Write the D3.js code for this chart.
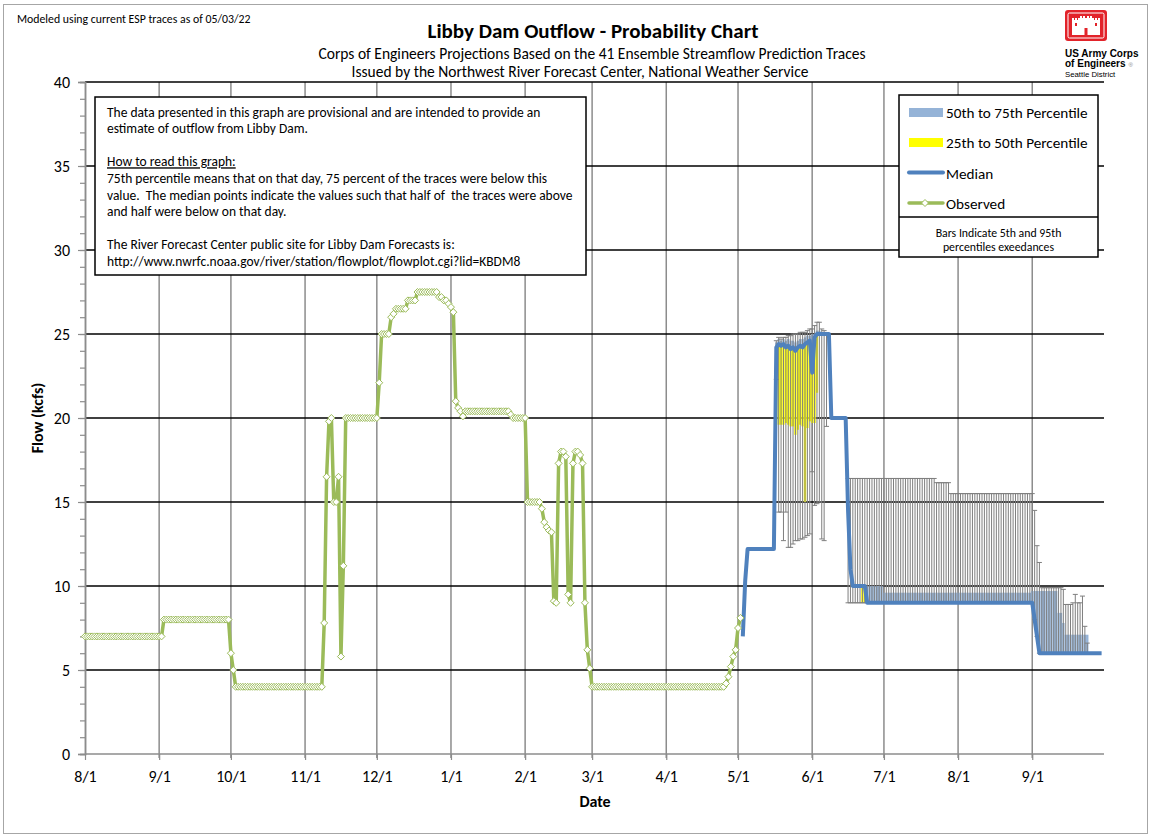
<!DOCTYPE html>
<html>
<head>
<meta charset="utf-8">
<script src="https://cdn.jsdelivr.net/npm/d3@7"></script>
<style>
  body { margin: 0; background: #fff; }
  svg text { font-family: Carlito, Calibri, Lato, sans-serif; fill: #000; }
</style>
</head>
<body>
<svg id="chart" width="1151" height="837"></svg>
<script>
// observed outflow (kcfs), one value per day starting 8/1/2021
const obsStart = new Date(2021, 7, 1);
const observed = [
  // Aug
  7,7,7,7,7,7,7,7,7,7, 7,7,7,7,7,7,7,7,7,7, 7,7,7,7,7,7,7,7,7,7, 7,
  // Sep
  7,7,8,8,8,8,8,8,8,8, 8,8,8,8,8,8,8,8,8,8, 8,8,8,8,8,8,8,8,8,8,
  // Oct
  6,5,4,4,4,4,4,4,4,4, 4,4,4,4,4,4,4,4,4,4, 4,4,4,4,4,4,4,4,4,4, 4,
  // Nov
  4,4,4,4,4,4,4,4,7.8,16.5, 19.8,20,15,15,16.5,5.8,11.2,20,20,20, 20,20,20,20,20,20,20,20,20,20,
  // Dec
  20,22.1,25,25,25,25,26,26.2,26.5,26.5, 26.5,26.5,26.5,27,27,27,27,27.5,27.5,27.5,
  27.5,27.5,27.5,27.5,27.5,27.5,27.2,27.2,27,27, 26.8,
  // Jan
  26.6,26.3,21,20.6,20.4,20.1,20.4,20.4,20.4,20.4, 20.4,20.4,20.4,20.4,20.4,20.4,20.4,20.4,20.4,20.4,
  20.4,20.4,20.4,20.4,20.4,20.2,20,20,20,20, 20,
  // Feb
  20,15,15,15,15,15,15,14.6,13.8,13.5, 13.3,13.2,9.1,9,17.3,18,18,17.7,9.5,9, 17.3,18,18,17.8,17.3,9,6.2,5.1,
  // Mar
  4,4,4,4,4,4,4,4,4,4, 4,4,4,4,4,4,4,4,4,4, 4,4,4,4,4,4,4,4,4,4, 4,
  // Apr
  4,4,4,4,4,4,4,4,4,4, 4,4,4,4,4,4,4,4,4,4, 4,4,4,4,4,4.2,4.6,5.2,5.8,6.2,
  // May
  7.5,8.1
];

// projections, one value per day starting 5/3/2022 (null = not shown)
const projStart = new Date(2022, 4, 3);
const median = [
  // May 3-31
  7,10.3,12.2,12.2,12.2,12.2,12.2,12.2,12.2,12.2, 12.2,12.2,12.2,12.2,24.2,24.4,24.3,24.4,24.2,24.3,
  24.1,24.2,24,24.2,24.3,24.2,24.4,24.5,24.6,
  // Jun
  22.7,24.8,25,25,25,25,25,25,20,20, 20,20,20,20,20,14.5,11,10,10,10, 10,10,10,9,9,9,9,9,9,9,
  // Jul
  9,9,9,9,9,9,9,9,9,9, 9,9,9,9,9,9,9,9,9,9, 9,9,9,9,9,9,9,9,9,9, 9,
  // Aug
  9,9,9,9,9,9,9,9,9,9, 9,9,9,9,9,9,9,9,9,9, 9,9,9,9,9,9,9,9,9,9, 9,
  // Sep
  9,8,7,6,6,6,6,6,6,6, 6,6,6,6,6,6,6,6,6,6, 6,6,6,6,6,6,6,6,6,6
];
const p25 = [
  // May
  null,null,null,null,null,null,null,null,null,null, null,null,null,null,null,
  19.6,19.6,19.6,19.7,19.6,19.5,19.5,19.0,19.3,19.6,19.5,15.0,19.4,19.8,
  // Jun
  19.7,19.7,21.5,null,null,null,null,null,null,null, null,null,null,null,null,null,null,null,null,null,
  null,9,9
];
const p75 = [
  // May
  null,null,null,null,null,null,null,null,null,null, null,null,null,null,
  24.5,24.7,24.6,24.7,24.6,24.7,24.6,24.6,24.5,24.6,24.7,24.7,24.8,24.9,24.9,
  // Jun
  25.0,25.0,25.2,25.2,25.1,null,null,null,null,null, null,null,null,null,null,null,null,10,10,10,
  10,10,10,10,10,10,10,10,10,10,
  // Jul
  9.6,9.6,9.6,9.6,9.6,9.6,9.6,9.6,9.6,9.6, 9.6,9.6,9.6,9.6,9.6,9.6,9.6,9.6,9.6,9.6, 9.6,9.6,9.6,9.6,9.6,9.6,9.6,9.6,9.6,9.6, 9.6,
  // Aug
  9.6,9.6,9.6,9.6,9.6,9.6,9.6,9.6,9.6,9.6, 9.6,9.6,9.6,9.6,9.6,9.6,9.6,9.6,9.6,9.6, 9.6,9.6,9.6,9.6,9.6,9.6,9.6,9.6,9.6,9.6, 9.6,
  // Sep
  9.7,9.7,9.7,9.7,9.7,9.7,9.7,9.7,9.7,9.7, 9.7,8.4,8.4,7.8,7.1,7.1,7.1,7.1,7.1,7.1, 7.1,7.1,7.1,7.1
];
const p5 = [
  // May
  null,null,null,null,null,null,null,null,null,null, null,null,null,null,
  22.3,14.4,14.4,12.7,14.4,12.3,12.3,12.5,12.7,12.7,12.8,12.8,12.9,13.0,13.1,
  // Jun
  16.8,14.8,14.9,15.0,12.8,12.7,19.5,null,null,null, null,null,null,null,null,9,9,9,9,9,
  9,9,9,9,9,9,9,9,9,9,
  // Jul
  9,9,9,9,9,9,9,9,9,9, 9,9,9,9,9,9,9,9,9,9, 9,9,9,9,9,9,9,9,9,9, 9,
  // Aug
  9,9,9,9,9,9,9,9,9,9, 9,9,9,9,9,9,9,9,9,9, 9,9,9,9,9,9,9,9,9,9, 9,
  // Sep
  9,8,7,6,6,6,6,6,6,6, 6,6,6,6,6,6,6,6,6,6, 6,6,6,6
];
const p95 = [
  // May
  null,null,null,null,null,null,null,null,null,null, null,null,null,null,
  24.6,24.8,24.7,24.8,24.8,24.9,24.9,25.0,25.0,25.0,25.1,25.1,25.1,25.2,25.3,
  // Jun
  25.3,25.5,25.7,25.7,25.3,25.2,25.0,null,null,null, null,null,null,null,null,16.4,16.4,16.4,16.4,16.4,
  16.4,16.4,16.4,16.4,16.4,16.4,16.4,16.4,16.4,16.4,
  // Jul
  16.4,16.4,16.4,16.4,16.4,16.4,16.4,16.4,16.4,16.4, 16.4,16.4,16.4,16.4,16.4,16.4,16.4,16.4,16.4,16.4,
  16.4,16.4,16.15,16.15,16.15,16.15,16.15,16.15,15.5,15.5, 15.5,
  // Aug
  15.5,15.5,15.5,15.5,15.5,15.5,15.5,15.5,15.5,15.5, 15.5,15.5,15.5,15.5,15.5,15.5,15.5,15.5,15.5,15.5,
  15.5,15.5,15.5,15.5,15.5,15.5,15.5,15.5,15.5,15.5, 15.5,
  // Sep
  15.5,14.5,12.4,11.4,9.9,9.9,9.9,9.9,9.9,9.9, 9.9,9.9,9.9,9.8,8.9,8.9,8.9,9.0,9.5,9.0, 9.0,9.4,7.6,6.6
];

const yTicks = [0, 5, 10, 15, 20, 25, 30, 35, 40];

const noteLines = [
  'The data presented in this graph are provisional and are intended to provide an',
  'estimate of outflow from Libby Dam.',
  '',
  'How to read this graph:',
  '75th percentile means that on that day, 75 percent of the traces were below this',
  'value.  The median points indicate the values such that half of  the traces were above',
  'and half were below on that day.',
  '',
  'The River Forecast Center public site for Libby Dam Forecasts is:',
  'http://www.nwrfc.noaa.gov/river/station/flowplot/flowplot.cgi?lid=KBDM8'
];

const GREEN = '#9bbb59', BLUE = '#4f81bd', BAND = '#95b3d7', YELLOW = '#ffff00', BAR = '#7f7f7f';

const svg = d3.select('#chart');

// frame
svg.append('rect').attr('x', 3.5).attr('y', 4.5).attr('width', 1144).attr('height', 829)
  .attr('fill', '#fff').attr('stroke', '#a6a6a6');

const x = d3.scaleTime().domain([new Date(2021, 7, 1), new Date(2022, 9, 1)]).range([85, 1104]);
const y = d3.scaleLinear().domain([0, 40]).range([754, 82]);
const months = d3.timeMonth.range(new Date(2021, 7, 1), new Date(2022, 8, 2));

// grid
svg.append('g').selectAll('line').data(months.slice(1)).enter().append('line')
  .attr('x1', d => x(d)).attr('x2', d => x(d))
  .attr('y1', y(40)).attr('y2', y(0) + 4)
  .attr('stroke', '#8c8c8c').attr('stroke-width', 1.5);
svg.append('g').selectAll('line').data(yTicks.slice(1)).enter().append('line')
  .attr('x1', 85).attr('x2', 1104)
  .attr('y1', d => y(d)).attr('y2', d => y(d))
  .attr('stroke', '#000').attr('stroke-width', 1.4);

// axes
const minor = svg.append('g').attr('transform', 'translate(85,0)')
  .call(d3.axisLeft(y).tickValues(d3.range(0, 41)).tickSize(5).tickFormat(''));
const yAx = svg.append('g').attr('transform', 'translate(85,0)')
  .call(d3.axisLeft(y).tickValues(yTicks).tickSize(7).tickPadding(8));
const xAx = svg.append('g').attr('transform', 'translate(0,754)')
  .call(d3.axisBottom(x).tickValues(months).tickSize(6).tickPadding(11).tickFormat(d3.timeFormat('%-m/%-d')));
[minor, yAx, xAx].forEach(g => {
  g.select('.domain').attr('stroke', '#8c8c8c').attr('stroke-width', 1.5);
  g.selectAll('.tick line').attr('stroke', '#8c8c8c').attr('stroke-width', 1.2);
  g.selectAll('.tick text').attr('font-size', 16).attr('fill', '#000');
});
xAx.select('.domain').attr('d', 'M85,0H1104');

// projection bands
const proj = median.map((m, i) => ({
  date: d3.timeDay.offset(projStart, i), m,
  lo: p25[i], hi: p75[i], e5: p5[i], e95: p95[i]
}));
const bw = 2.4;
const plot = svg.append('g');
plot.selectAll('rect.yel').data(proj.filter(d => d.lo != null && d.m > d.lo)).enter().append('rect')
  .attr('x', d => x(d.date) - bw / 2).attr('width', bw)
  .attr('y', d => y(d.m)).attr('height', d => y(d.lo) - y(d.m))
  .attr('fill', YELLOW);
plot.selectAll('rect.blu').data(proj.filter(d => d.hi != null && d.hi > d.m)).enter().append('rect')
  .attr('x', d => x(d.date) - bw / 2).attr('width', bw)
  .attr('y', d => y(d.hi)).attr('height', d => y(d.m) - y(d.hi))
  .attr('fill', BAND);

// 5th-95th error bars
const eb = plot.selectAll('g.eb').data(proj.filter(d => d.e5 != null && d.e95 != null)).enter().append('g')
  .attr('stroke', BAR).attr('stroke-width', 1);
eb.append('line').attr('x1', d => x(d.date)).attr('x2', d => x(d.date))
  .attr('y1', d => y(d.e95)).attr('y2', d => y(d.e5));
eb.append('line').attr('x1', d => x(d.date) - 2.5).attr('x2', d => x(d.date) + 2.5)
  .attr('y1', d => y(d.e95)).attr('y2', d => y(d.e95));
eb.append('line').attr('x1', d => x(d.date) - 2.5).attr('x2', d => x(d.date) + 2.5)
  .attr('y1', d => y(d.e5)).attr('y2', d => y(d.e5));

// median
plot.append('path').datum(proj)
  .attr('d', d3.line().x(d => x(d.date)).y(d => y(d.m)))
  .attr('fill', 'none').attr('stroke', BLUE).attr('stroke-width', 4).attr('stroke-linejoin', 'round');

// observed
const obs = observed.map((v, i) => ({ date: d3.timeDay.offset(obsStart, i), v }));
plot.append('path').datum(obs)
  .attr('d', d3.line().x(d => x(d.date)).y(d => y(d.v)))
  .attr('fill', 'none').attr('stroke', GREEN).attr('stroke-width', 3.5).attr('stroke-linejoin', 'round');
const diamond = 'M0,-3.5L3.5,0L0,3.5L-3.5,0Z';
plot.selectAll('path.mk').data(obs).enter().append('path')
  .attr('d', diamond).attr('transform', d => `translate(${x(d.date)},${y(d.v)})`)
  .attr('fill', '#fff').attr('stroke', GREEN).attr('stroke-width', 1);

// note box
svg.append('rect').attr('x', 95).attr('y', 97).attr('width', 491).attr('height', 178)
  .attr('fill', '#fff').attr('stroke', '#000').attr('stroke-width', 1.5);
const note = svg.append('text').attr('font-size', 13.5).style('white-space', 'pre');
noteLines.forEach((t, i) => {
  note.append('tspan').attr('x', 107).attr('y', 116.5 + i * 16.6).text(t)
    .attr('text-decoration', i === 3 ? 'underline' : null);
});

// legend
const lg = svg.append('g');
lg.append('rect').attr('x', 899).attr('y', 95).attr('width', 199).attr('height', 162)
  .attr('fill', '#fff').attr('stroke', '#000').attr('stroke-width', 1.5);
lg.append('line').attr('x1', 899).attr('x2', 1098).attr('y1', 217).attr('y2', 217)
  .attr('stroke', '#000').attr('stroke-width', 1.5);
lg.append('rect').attr('x', 909).attr('y', 108).attr('width', 34).attr('height', 9).attr('fill', BAND);
lg.append('rect').attr('x', 909).attr('y', 138).attr('width', 34).attr('height', 9).attr('fill', YELLOW);
lg.append('line').attr('x1', 909).attr('x2', 943).attr('y1', 172.5).attr('y2', 172.5)
  .attr('stroke', BLUE).attr('stroke-width', 4).attr('stroke-linecap', 'round');
lg.append('line').attr('x1', 909).attr('x2', 943).attr('y1', 203).attr('y2', 203)
  .attr('stroke', GREEN).attr('stroke-width', 3.5).attr('stroke-linecap', 'round');
lg.append('path').attr('d', diamond).attr('transform', 'translate(925,203)')
  .attr('fill', '#fff').attr('stroke', GREEN);
const legendLabels = ['50th to 75th Percentile', '25th to 50th Percentile', 'Median', 'Observed'];
legendLabels.forEach((t, i) => {
  lg.append('text').attr('x', 946).attr('y', 118 + i * 30.3).attr('font-size', 15.2).text(t);
});
lg.append('text').attr('x', 998.5).attr('y', 237).attr('font-size', 11.8).attr('text-anchor', 'middle')
  .text('Bars Indicate 5th and 95th');
lg.append('text').attr('x', 998.5).attr('y', 250.5).attr('font-size', 11.8).attr('text-anchor', 'middle')
  .text('percentiles exeedances');

// titles
svg.append('text').attr('x', 17).attr('y', 23).attr('font-size', 11.8)
  .text('Modeled using current ESP traces as of 05/03/22');
svg.append('text').attr('x', 593).attr('y', 37.5).attr('font-size', 21).attr('font-weight', 'bold')
  .attr('text-anchor', 'middle').text('Libby Dam Outflow - Probability Chart');
svg.append('text').attr('x', 592).attr('y', 58.5).attr('font-size', 15.5).attr('text-anchor', 'middle')
  .text('Corps of Engineers Projections Based on the 41 Ensemble Streamflow Prediction Traces');
svg.append('text').attr('x', 580).attr('y', 77).attr('font-size', 15.5).attr('text-anchor', 'middle')
  .text('Issued by the Northwest River Forecast Center, National Weather Service');
svg.append('text').attr('transform', 'translate(43,418) rotate(-90)').attr('font-size', 16)
  .attr('font-weight', 'bold').attr('text-anchor', 'middle').text('Flow (kcfs)');
svg.append('text').attr('x', 595).attr('y', 807).attr('font-size', 16)
  .attr('font-weight', 'bold').attr('text-anchor', 'middle').text('Date');

// USACE logo
const logo = svg.append('g').attr('transform', 'translate(1065,10)');
logo.append('rect').attr('width', 42).attr('height', 31).attr('rx', 3).attr('fill', '#e2232a');
logo.append('rect').attr('x', 3).attr('y', 3).attr('width', 36).attr('height', 25).attr('rx', 1.5)
  .attr('fill', 'none').attr('stroke', '#fff').attr('stroke-width', 1);
const castle = [
  [7, 10, 8, 15], [27, 10, 8, 15], [15, 8, 12, 17], [11, 14, 20, 11],
  [7, 8, 2, 2], [10, 8, 2, 2], [13, 8, 2, 2], [27, 8, 2, 2], [30, 8, 2, 2], [33, 8, 2, 2],
  [15, 6, 2, 2], [18, 6, 2, 2], [22, 6, 2, 2], [25, 6, 2, 2]
];
logo.selectAll('rect.c').data(castle).enter().append('rect')
  .attr('x', d => d[0]).attr('y', d => d[1]).attr('width', d => d[2]).attr('height', d => d[3])
  .attr('fill', '#fff');
logo.append('rect').attr('x', 19.5).attr('y', 18).attr('width', 3).attr('height', 7).attr('fill', '#e2232a');
logo.append('rect').attr('x', 10).attr('y', 13).attr('width', 2).attr('height', 3).attr('fill', '#e2232a');
logo.append('rect').attr('x', 30).attr('y', 13).attr('width', 2).attr('height', 3).attr('fill', '#e2232a');
const logoFont = 'Arial, "Liberation Sans", sans-serif';
svg.append('text').attr('x', 1065).attr('y', 57).attr('font-size', 10).attr('font-weight', 'bold')
  .style('font-family', logoFont).text('US Army Corps');
const eng = svg.append('text').attr('x', 1065).attr('y', 66.5).attr('font-size', 10).attr('font-weight', 'bold')
  .style('font-family', logoFont).text('of Engineers');
eng.append('tspan').attr('dx', 3).attr('font-size', 6).attr('font-weight', 'normal').attr('fill', '#888').text('®');
svg.append('text').attr('x', 1065).attr('y', 76.5).attr('font-size', 7.8)
  .style('font-family', logoFont).text('Seattle District');
</script>
</body>
</html>
